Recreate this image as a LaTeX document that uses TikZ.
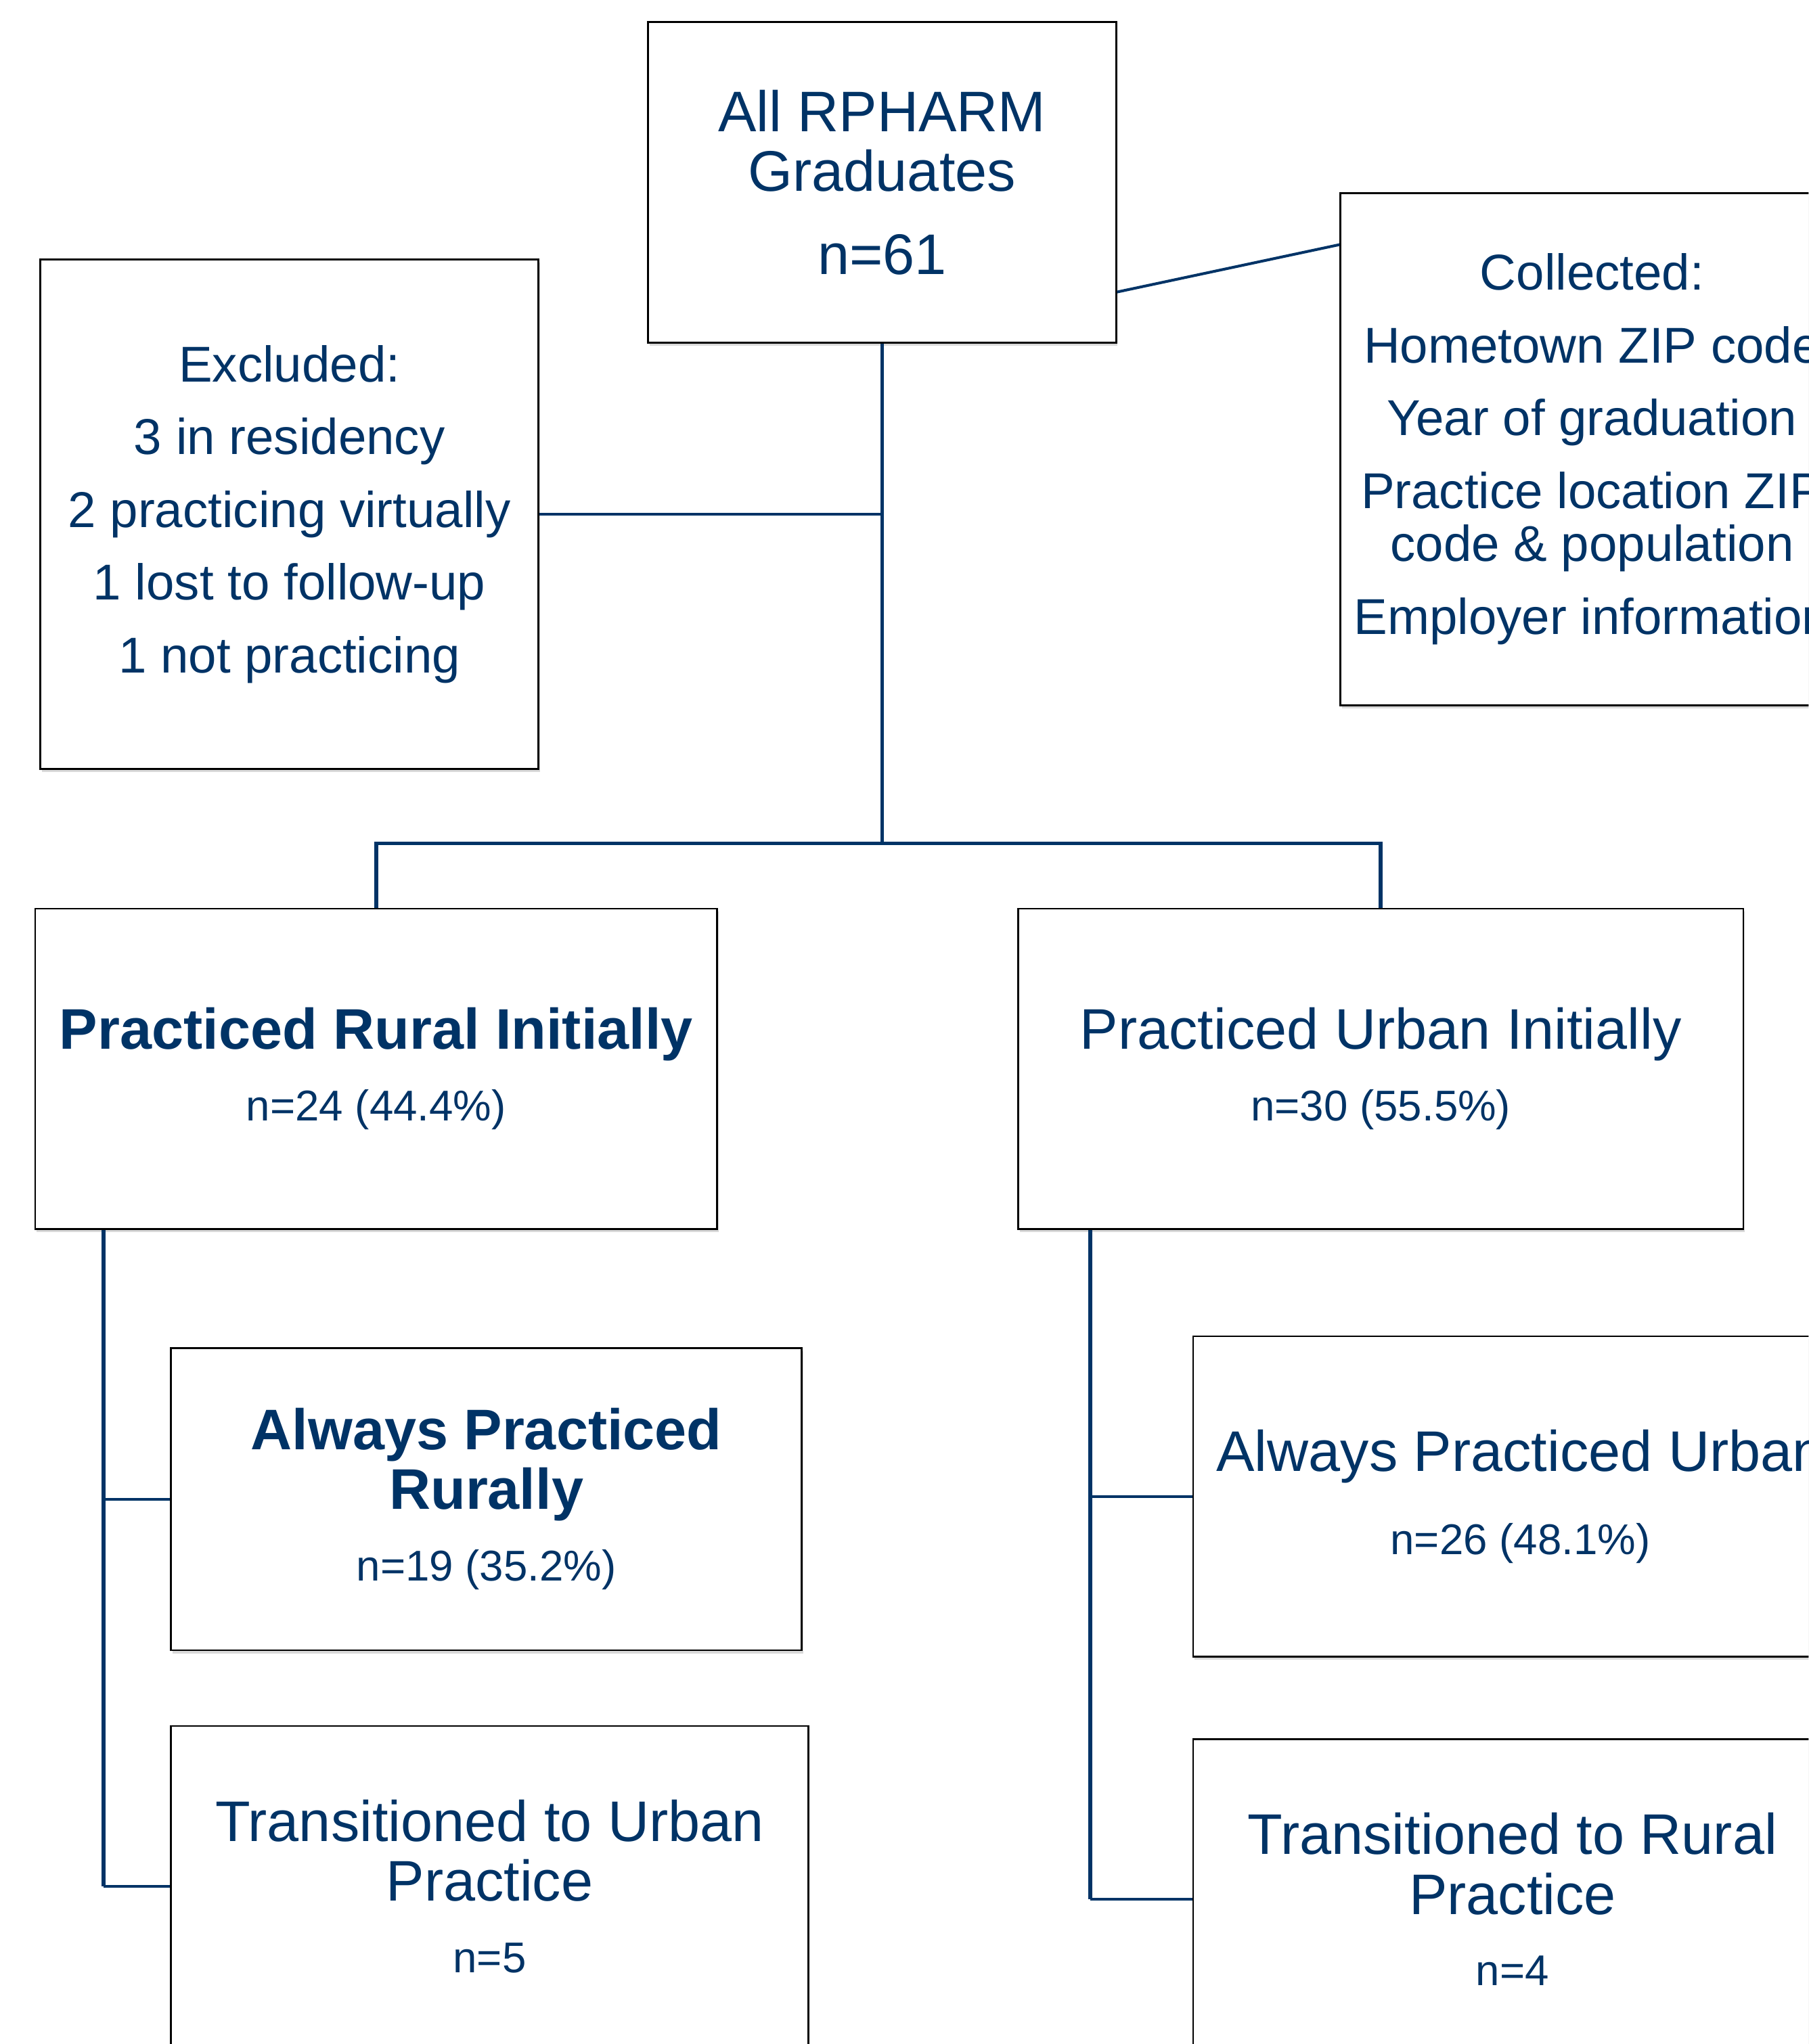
\documentclass[tikz,border=0pt]{standalone}
\usepackage{fontspec}
\setmainfont{Liberation Sans}
\usetikzlibrary{shadows}
\definecolor{navy}{RGB}{0,51,102}
\newcommand{\boxtitle}{\fontsize{25}{26.1}\selectfont}
\newcommand{\boxcount}{\fontsize{18.8}{26.1}\selectfont}
\newcommand{\boxlist}{\fontsize{22}{31.75}\selectfont}
\newcommand{\boxitems}{\fontsize{22}{23.25}\selectfont}

\begin{document}
\begin{tikzpicture}[
  x=0.02cm,
  y=-0.02cm,
  every node/.style={text=navy, align=center},
  box/.style={draw=black, line width=0.8pt, fill=white, inner sep=0pt,
    drop shadow={shadow xshift=0.6pt, shadow yshift=-1.3pt, opacity=0.3}},
  trunk/.style={draw=navy, line width=1.7pt},
  branch/.style={draw=navy, line width=1.2pt}
]
  \useasboundingbox (0,0) rectangle (1387,1568);
  \clip (0,0) rectangle (1387,1568);

  \node[box, minimum width=7.18cm, minimum height=4.92cm, font=\boxtitle] (grads) at (676.5,140)
    {All RPHARM\\Graduates\\[10.2pt]n=61};
  \node[box, minimum width=7.64cm, minimum height=7.82cm, font=\boxlist] (excl) at (222,394.5)
    {Excluded:\\3 in residency\\2 practicing virtually\\1 lost to follow-up\\1 not practicing};
  \node[box, minimum width=7.72cm, minimum height=7.86cm, font=\boxitems] (coll) at (1221,344.5)
    {Collected:\\[8.5pt]Hometown ZIP code\\[8.5pt]Year of graduation\\[8.5pt]Practice location ZIP\\code \& population\\[8.5pt]Employer information};

  \node[box, minimum width=10.46cm, minimum height=4.92cm, font=\boxtitle] (rural) at (288.5,820)
    {\bfseries Practiced Rural Initially\\[5.2pt]\boxcount n=24 (44.4\%)};
  \node[box, minimum width=11.12cm, minimum height=4.92cm, font=\boxtitle] (urban) at (1059,820)
    {Practiced Urban Initially\\[5.2pt]\boxcount n=30 (55.5\%)};

  \node[box, minimum width=9.68cm, minimum height=4.64cm, font=\boxtitle] (alwrural) at (373,1150)
    {\bfseries Always Practiced\\\bfseries Rurally\\[5.2pt]\boxcount n=19 (35.2\%)};
  \node[box, minimum width=9.78cm, minimum height=4.92cm, font=\boxtitle] (transurban) at (375.5,1447)
    {Transitioned to Urban\\Practice\\[5.2pt]\boxcount n=5};
  \node[box, minimum width=10.04cm, minimum height=4.92cm, font=\boxtitle] (alwurban) at (1166,1148)
    {Always Practiced Urban\\[10.2pt]\boxcount n=26 (48.1\%)};
  \node[box, minimum width=9.8cm, minimum height=4.92cm, font=\boxtitle] (transrural) at (1160,1457)
    {Transitioned to Rural\\Practice\\[5.2pt]\boxcount n=4};

  \coordinate (split) at (676.5,647);
  \coordinate (exjoin) at (676.5,394.5);
  \draw[trunk] (grads.south) -- (split);
  \draw[trunk] (split) -| (rural.north);
  \draw[trunk] (split) -| (urban.north);
  \draw[branch] (excl.east) -- (exjoin);
  \draw[branch] (grads.-25.3) -- (coll.141);

  \coordinate (rtop) at ([xshift=1.06cm]rural.south west);
  \coordinate (rbot) at (rtop |- transurban.west);
  \draw[trunk] (rtop) -- (rbot);
  \draw[branch] (rtop |- alwrural.west) -- (alwrural.west);
  \draw[branch] (rbot) -- (transurban.west);

  \coordinate (utop) at ([xshift=1.12cm]urban.south west);
  \coordinate (ubot) at (utop |- transrural.west);
  \draw[trunk] (utop) -- (ubot);
  \draw[branch] (utop |- alwurban.west) -- (alwurban.west);
  \draw[branch] (ubot) -- (transrural.west);
\end{tikzpicture}
\end{document}
